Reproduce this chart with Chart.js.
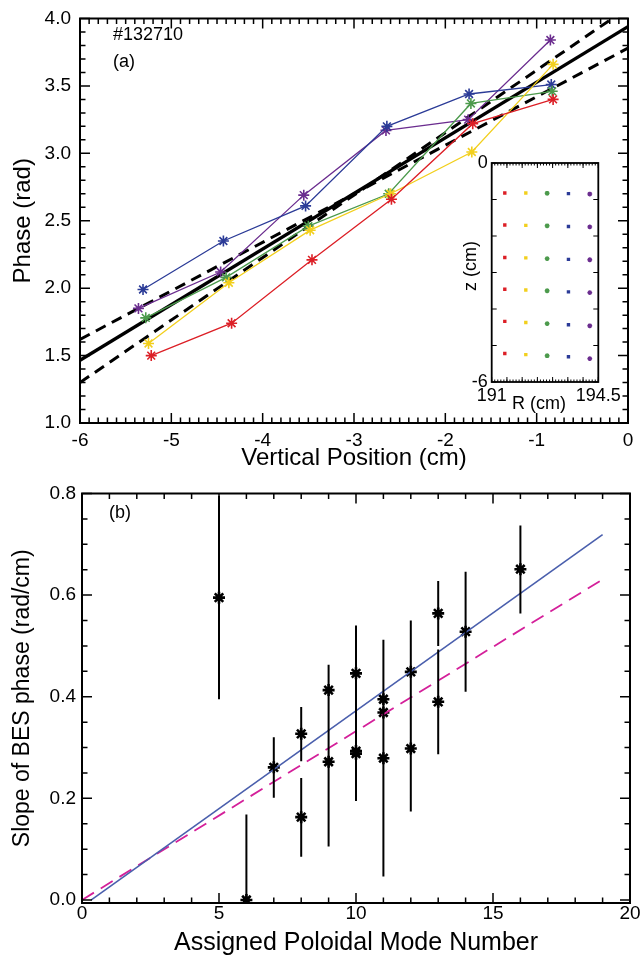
<!DOCTYPE html>
<html>
<head>
<meta charset="utf-8">
<script src="https://cdn.jsdelivr.net/npm/chart.js@4.4.1/dist/chart.umd.min.js"></script>
<style>
  html, body { margin: 0; padding: 0; background: #fff; }
  #wrap { position: relative; width: 643px; height: 960px; }
  canvas { position: absolute; }
</style>
</head>
<body>
<div id="wrap">
  <canvas id="phase" width="643" height="480" style="left:0;top:0"></canvas>
  <canvas id="inset" width="190" height="270" style="left:440px;top:150px"></canvas>
  <canvas id="slope" width="643" height="482" style="left:0;top:478px"></canvas>
</div>
<script>
// ---- panel (a): BES phase vs vertical position, one array per radial column
const beamColors = ['#dc1f26', '#f2cf1d', '#4c9a4c', '#2b3b97', '#6b2d8f'];
const posRed    = [-5.22, -4.34, -3.46, -2.59, -1.70, -0.82];
const posYellow = [-5.25, -4.37, -3.48, -2.60, -1.71, -0.82];
const posGreen  = [-5.28, -4.40, -3.50, -2.62, -1.72, -0.83];
const posBlue   = [-5.31, -4.43, -3.53, -2.64, -1.74, -0.84];
const posPurple = [-5.36, -4.46, -3.55, -2.65, -1.75, -0.85];
const phaseRed    = [1.50, 1.74, 2.21, 2.66, 3.22, 3.40];
const phaseYellow = [1.59, 2.04, 2.43, 2.70, 3.01, 3.66];
const phaseGreen  = [1.78, 2.08, 2.46, 2.70, 3.37, 3.46];
const phaseBlue   = [1.99, 2.35, 2.61, 3.20, 3.44, 3.51];
const phasePurple = [1.85, 2.12, 2.69, 3.17, 3.25, 3.84];

// linear fit and the two bounding fits
const fitX       = [-6, 0];
const fitMid     = [1.465, 3.94];
const fitBoundA  = [1.62, 3.78];
const fitBoundB  = [1.30, 4.08];

const topXTicks = [-6, -5, -4, -3, -2, -1, 0];
const topYTicks = [1.0, 1.5, 2.0, 2.5, 3.0, 3.5, 4.0];

// ---- inset: channel positions (R, z) -- z is shared with the arrays above
const insetR = [191.43, 192.12, 192.82, 193.52, 194.22];
const insetXTicks = [191, 194.5];
const insetYTicks = [-6, 0];

// ---- panel (b): slope of phase vs assigned poloidal mode number
const modeNum  = [5, 6, 7, 8, 8, 9, 9, 10, 10, 10, 11, 11, 11, 12, 12, 13, 13, 14, 16];
const slopeVal = [0.595, 0.0, 0.261, 0.327, 0.163, 0.413, 0.272, 0.446, 0.293, 0.288, 0.395, 0.369, 0.279, 0.449, 0.298, 0.564, 0.390, 0.528, 0.651];
const slopeLo  = [0.395, -0.17, 0.201, 0.273, 0.085, 0.364, 0.105, 0.352, 0.195, 0.206, 0.335, 0.230, 0.046, 0.348, 0.174, 0.500, 0.287, 0.410, 0.564];
const slopeHi  = [0.795, 0.168, 0.320, 0.380, 0.240, 0.463, 0.439, 0.540, 0.391, 0.372, 0.455, 0.508, 0.512, 0.550, 0.422, 0.628, 0.493, 0.646, 0.737];
const fitBlueX = [0.34, 19];
const fitBlueY = [0.0, 0.719];
const fitPinkX = [0, 19];
const fitPinkY = [0.0, 0.631];
const botXTicks = [0, 5, 10, 15, 20];
const botYTicks = [0.0, 0.2, 0.4, 0.6, 0.8];

const TICK_FONT = '"Liberation Sans", Arial, sans-serif';

function range(a, b, step) {
  const out = [];
  for (let v = a; v <= b + step / 2; v += step) out.push(Math.round(v * 1000) / 1000);
  return out;
}

// frame with inward ticks on all four sides (IDL style)
const frameTicks = {
  id: 'frameTicks',
  beforeDatasetsDraw(chart, args, o) {
    if (!o.fill) return;
    const a = chart.chartArea;
    chart.ctx.save();
    chart.ctx.fillStyle = o.fill;
    chart.ctx.fillRect(a.left, a.top, a.width, a.height);
    chart.ctx.restore();
  },
  afterDraw(chart, args, o) {
    const { ctx, chartArea: a, scales: { x, y } } = chart;
    ctx.save();
    ctx.strokeStyle = '#000';
    ctx.lineWidth = o.tickWidth || 1.5;
    ctx.beginPath();
    const xt = (vals, len) => vals.forEach(v => {
      const p = x.getPixelForValue(v);
      ctx.moveTo(p, a.bottom); ctx.lineTo(p, a.bottom - len);
      ctx.moveTo(p, a.top); ctx.lineTo(p, a.top + len);
    });
    const yt = (vals, len) => vals.forEach(v => {
      const p = y.getPixelForValue(v);
      ctx.moveTo(a.left, p); ctx.lineTo(a.left + len, p);
      ctx.moveTo(a.right, p); ctx.lineTo(a.right - len, p);
    });
    xt(o.xMinor, o.minorLen); xt(o.xMajor, o.majorLen);
    yt(o.yMinor, o.minorLen); yt(o.yMajor, o.majorLen);
    ctx.stroke();
    ctx.lineWidth = o.frameWidth || 2;
    ctx.strokeRect(a.left, a.top, a.width, a.height);
    ctx.restore();
  }
};

// free text (panel tags, inset axis names)
const notes = {
  id: 'notes',
  afterDraw(chart, args, o) {
    const ctx = chart.ctx;
    (o.items || []).forEach(n => {
      ctx.save();
      ctx.font = n.font;
      ctx.fillStyle = '#000';
      ctx.textAlign = n.align || 'left';
      ctx.textBaseline = 'middle';
      ctx.translate(n.x, n.y);
      if (n.rotate) ctx.rotate(n.rotate);
      ctx.fillText(n.text, 0, 0);
      ctx.restore();
    });
  }
};

const fixedTicks = list => s => { s.ticks = list.map(v => ({ value: v })); };
const noGrid = { display: false, drawTicks: false };

// ---------------- panel (a)
const posSets = [posRed, posYellow, posGreen, posBlue, posPurple];
const phaseSets = [phaseRed, phaseYellow, phaseGreen, phaseBlue, phasePurple];

const beamDatasets = posSets.map((xs, i) => ({
  data: xs.map((x, j) => ({ x, y: phaseSets[i][j] })),
  showLine: true,
  borderColor: beamColors[i],
  borderWidth: 1.3,
  pointStyle: 'star',
  pointRadius: 5.5,
  pointBorderWidth: 1.6,
  pointBorderColor: beamColors[i],
  pointBackgroundColor: beamColors[i]
}));

function fitSet(xs, ys, dash, width) {
  return {
    data: xs.map((x, j) => ({ x, y: ys[j] })),
    showLine: true,
    borderColor: '#000',
    borderWidth: width,
    borderDash: dash,
    pointRadius: 0
  };
}

new Chart(document.getElementById('phase'), {
  type: 'scatter',
  data: {
    datasets: [
      ...beamDatasets,
      fitSet(fitX, fitMid, [], 3.4),
      fitSet(fitX, fitBoundA, [11, 7], 3),
      fitSet(fitX, fitBoundB, [11, 7], 3)
    ]
  },
  options: {
    responsive: false,
    animation: false,
    layout: { padding: { left: 0, right: 15, top: 12, bottom: 0 } },
    plugins: {
      legend: { display: false },
      tooltip: { enabled: false },
      frameTicks: {
        xMajor: topXTicks, xMinor: range(-6, 0, 0.1),
        yMajor: topYTicks, yMinor: range(1, 4, 0.1),
        majorLen: 10, minorLen: 5.5, tickWidth: 1.5, frameWidth: 2
      },
      notes: {
        items: [
          { text: '#132710', x: 113, y: 35, font: '18px ' + TICK_FONT },
          { text: '(a)', x: 113, y: 62, font: '18px ' + TICK_FONT }
        ]
      }
    },
    scales: {
      x: {
        type: 'linear', min: -6, max: 0,
        grid: noGrid, border: { display: false },
        afterBuildTicks: fixedTicks(topXTicks),
        afterFit: s => { s.height = 57; },
        ticks: { color: '#000', font: { family: TICK_FONT, size: 19, lineHeight: 1 }, padding: 8, maxRotation: 0, autoSkip: false, callback: v => String(v) },
        title: { display: true, text: 'Vertical Position (cm)', color: '#000', font: { family: TICK_FONT, size: 24, lineHeight: 1.2 }, padding: { top: 0, bottom: 7 } }
      },
      y: {
        type: 'linear', min: 1, max: 4,
        grid: noGrid, border: { display: false },
        afterBuildTicks: fixedTicks(topYTicks),
        afterFit: s => { s.width = 80; },
        ticks: { color: '#000', font: { family: TICK_FONT, size: 19, lineHeight: 1 }, padding: 9, autoSkip: false, callback: v => v.toFixed(1) },
        title: { display: true, text: 'Phase (rad)', color: '#000', font: { family: TICK_FONT, size: 24, lineHeight: 1.2 }, padding: { top: 9, bottom: 0 } }
      }
    }
  },
  plugins: [frameTicks, notes]
});

// ---------------- inset: channel layout
const insetStyles = ['rect', 'rect', 'star', 'rect', 'star'];
new Chart(document.getElementById('inset'), {
  type: 'scatter',
  data: {
    datasets: posSets.map((zs, i) => ({
      data: zs.map(z => ({ x: insetR[i], y: z })),
      pointStyle: insetStyles[i],
      pointRadius: 2.4,
      pointBorderWidth: insetStyles[i] === 'star' ? 1.4 : 0,
      pointBorderColor: beamColors[i],
      pointBackgroundColor: beamColors[i]
    }))
  },
  options: {
    responsive: false,
    animation: false,
    layout: { padding: { left: 0, right: 31.7, top: 10, bottom: 0 } },
    plugins: {
      legend: { display: false },
      tooltip: { enabled: false },
      frameTicks: {
        fill: '#fff',
        xMajor: range(191, 194.5, 0.5), xMinor: range(191, 194.5, 0.1),
        yMajor: range(-6, 0, 1), yMinor: [],
        majorLen: 5, minorLen: 2.5, tickWidth: 1, frameWidth: 1.8
      },
      notes: {
        items: [
          { text: 'R (cm)', x: 99, y: 254, font: '18px ' + TICK_FONT, align: 'center' },
          { text: 'z (cm)', x: 31, y: 116, font: '18px ' + TICK_FONT, align: 'center', rotate: -Math.PI / 2 }
        ]
      }
    },
    scales: {
      x: {
        type: 'linear', min: 191, max: 194.5,
        grid: noGrid, border: { display: false },
        afterBuildTicks: fixedTicks(insetXTicks),
        afterFit: s => { s.height = 38; },
        ticks: { color: '#000', font: { family: TICK_FONT, size: 18, lineHeight: 1 }, padding: 5.5, maxRotation: 0, autoSkip: false, callback: v => String(v) }
      },
      y: {
        type: 'linear', min: -6, max: 0,
        grid: noGrid, border: { display: false },
        afterBuildTicks: fixedTicks(insetYTicks),
        afterFit: s => { s.width = 51.7; },
        ticks: { color: '#000', font: { family: TICK_FONT, size: 18, lineHeight: 1 }, padding: 4, autoSkip: false, callback: v => String(v) }
      }
    }
  },
  plugins: [frameTicks, notes]
});

// ---------------- panel (b)
const errorBars = modeNum.flatMap((m, i) => [
  { x: m, y: slopeLo[i] }, { x: m, y: slopeHi[i] }, { x: m, y: null }
]);

new Chart(document.getElementById('slope'), {
  type: 'scatter',
  data: {
    datasets: [
      { data: errorBars, showLine: true, spanGaps: false, borderColor: '#000', borderWidth: 2, pointRadius: 0, clip: 0 },
      { data: fitBlueX.map((x, j) => ({ x, y: fitBlueY[j] })), showLine: true, borderColor: '#4a5fad', borderWidth: 1.6, pointRadius: 0 },
      { data: fitPinkX.map((x, j) => ({ x, y: fitPinkY[j] })), showLine: true, borderColor: '#d4209a', borderWidth: 1.8, borderDash: [14, 8], pointRadius: 0 },
      {
        data: modeNum.map((m, i) => ({ x: m, y: slopeVal[i] })),
        pointStyle: 'star', pointRadius: 6, pointBorderWidth: 2.6,
        pointBorderColor: '#000', pointBackgroundColor: '#000'
      }
    ]
  },
  options: {
    responsive: false,
    animation: false,
    layout: { padding: { left: 0, right: 13, top: 12, bottom: 0 } },
    plugins: {
      legend: { display: false },
      tooltip: { enabled: false },
      frameTicks: {
        xMajor: botXTicks, xMinor: range(0, 20, 1),
        yMajor: botYTicks, yMinor: range(0, 0.8, 0.05),
        majorLen: 10, minorLen: 5.5, tickWidth: 1.5, frameWidth: 2
      },
      notes: {
        items: [
          { text: '(b)', x: 109, y: 35, font: '18px ' + TICK_FONT }
        ]
      }
    },
    scales: {
      x: {
        type: 'linear', min: 0, max: 20,
        grid: noGrid, border: { display: false },
        afterBuildTicks: fixedTicks(botXTicks),
        afterFit: s => { s.height = 57; },
        ticks: { color: '#000', font: { family: TICK_FONT, size: 19, lineHeight: 1 }, padding: 1, maxRotation: 0, autoSkip: false, callback: v => String(v) },
        title: { display: true, text: 'Assigned Poloidal Mode Number', color: '#000', font: { family: TICK_FONT, size: 25, lineHeight: 1.2 }, padding: { top: 0, bottom: 2 } }
      },
      y: {
        type: 'linear', min: -0.006, max: 0.8,
        grid: noGrid, border: { display: false },
        afterBuildTicks: fixedTicks(botYTicks),
        afterFit: s => { s.width = 82; },
        ticks: { color: '#000', font: { family: TICK_FONT, size: 19, lineHeight: 1 }, padding: 6, autoSkip: false, callback: v => v.toFixed(1) },
        title: { display: true, text: 'Slope of BES phase (rad/cm)', color: '#000', font: { family: TICK_FONT, size: 23, lineHeight: 1.2 }, padding: { top: 9, bottom: 0 } }
      }
    }
  },
  plugins: [frameTicks, notes]
});
</script>
</body>
</html>
